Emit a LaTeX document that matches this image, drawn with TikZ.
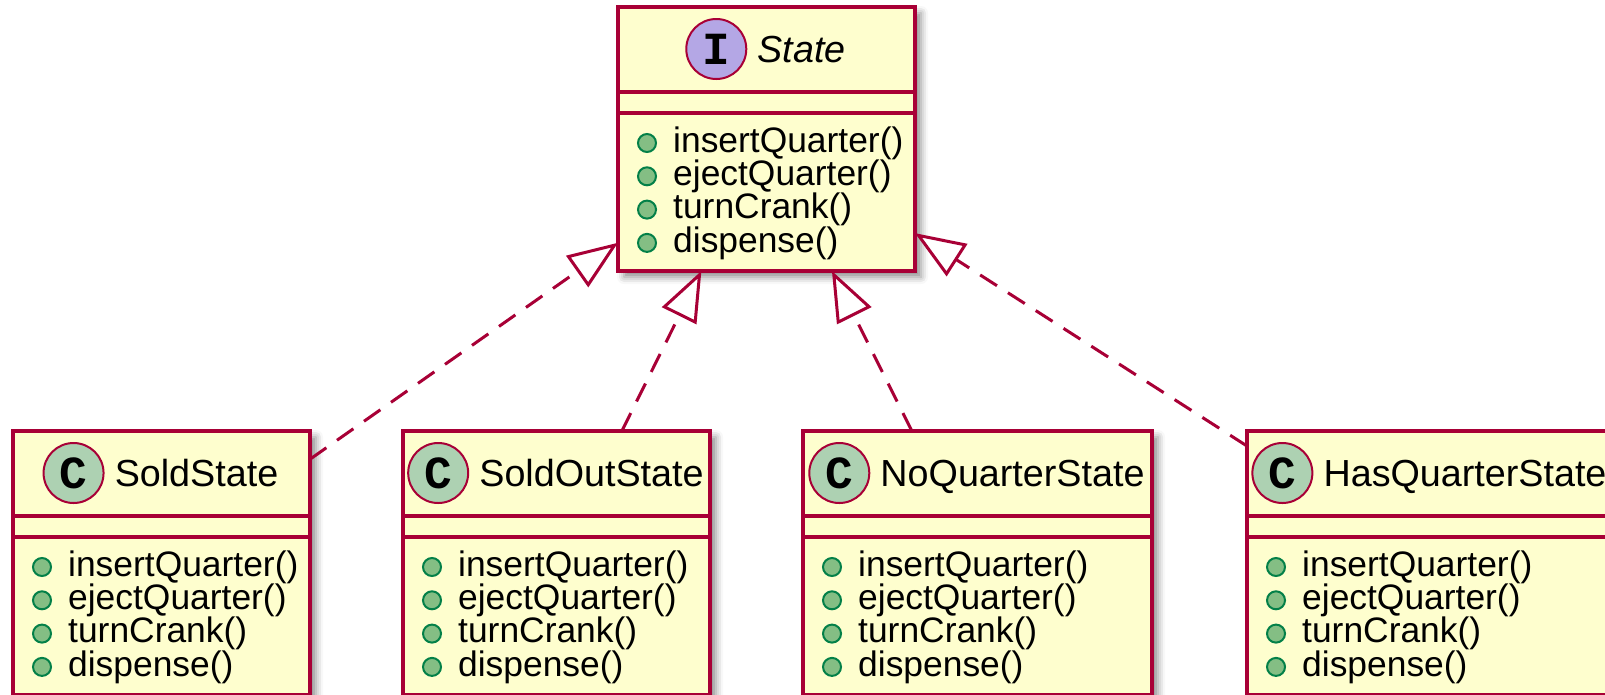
\documentclass[tikz,border=0pt]{standalone}
\usepackage{fontspec}
\setmainfont{Liberation Sans}
\newfontfamily\spotfam{Liberation Mono}
\usetikzlibrary{positioning,calc,shadows.blur,arrows.meta}
\definecolor{plum}{HTML}{A80036}
\definecolor{cream}{HTML}{FEFECE}
\definecolor{cfill}{HTML}{ADD1B2}
\definecolor{ifill}{HTML}{B4A7E5}
\definecolor{pubfill}{HTML}{84BE84}
\definecolor{publine}{HTML}{038048}
\tikzset{
  cls/.style={draw=plum, fill=cream, line width=4pt, anchor=north west,
    minimum width=#1pt, minimum height=264pt, inner sep=0pt, outer sep=0pt,
    blur shadow={shadow xshift=6pt, shadow yshift=-6pt, shadow blur radius=7pt, shadow opacity=45}},
  spot/.style={circle, draw=plum, line width=2pt, minimum size=60pt, inner sep=0pt,
    font=\spotfam\bfseries\fontsize{46}{46}\selectfont},
  cname/.style={inner sep=0pt, text height=27pt, text depth=0pt,
    font=\fontsize{37.7}{40}\selectfont},
  member/.style={anchor=west, inner sep=0pt, font=\fontsize{35.4}{38}\selectfont},
  pub/.style={circle, fill=pubfill, draw=publine, line width=2pt, minimum size=18pt, inner sep=0pt},
  realize/.style={draw=plum, line width=3pt, dash pattern=on 20pt off 13pt,
    -{Triangle[fill=white, length=50pt, width=38pt]}}
}
\begin{document}
\begin{tikzpicture}[x=1pt,y=-1pt]
\clip (0,0) rectangle (1605,694);
% class boxes
\foreach \id/\bx/\by/\w/\letter/\spotcol/\name in {
  st/618/7/297/I/ifill/{\itshape State},
  sold/13/431/297/C/cfill/SoldState,
  soldout/403/431/307/C/cfill/SoldOutState,
  noq/803/431/349/C/cfill/NoQuarterState,
  hasq/1247/431/366/C/cfill/HasQuarterState}
{
  \node[cls=\w] (\id) at (\bx,\by) {};
  \node[cname] (\id-t) at ($(\id.north)+(35,42)$) {\name};
  \node[spot, fill=\spotcol, left=10pt of \id-t] (\id-s) {\letter};
  \draw[plum, line width=4pt] ($(\id.north west)+(0,85)$) -- ($(\id.north east)+(0,85)$);
  \draw[plum, line width=4pt] ($(\id.north west)+(0,106)$) -- ($(\id.north east)+(0,106)$);
  \foreach \m [count=\i] in {insertQuarter(), ejectQuarter(), turnCrank(), dispense()}
  {
    \node[pub] at ($(\id.north west)+(29,102.7+33.3*\i)$) {};
    \node[member] at ($(\id.north west)+(55,102.7+33.3*\i)$) {\m};
  }
}
% realizations
\path[realize] (sold) edge (st)
  (soldout) edge (st)
  (noq) edge (st)
  (hasq) edge (st);
\end{tikzpicture}
\end{document}
